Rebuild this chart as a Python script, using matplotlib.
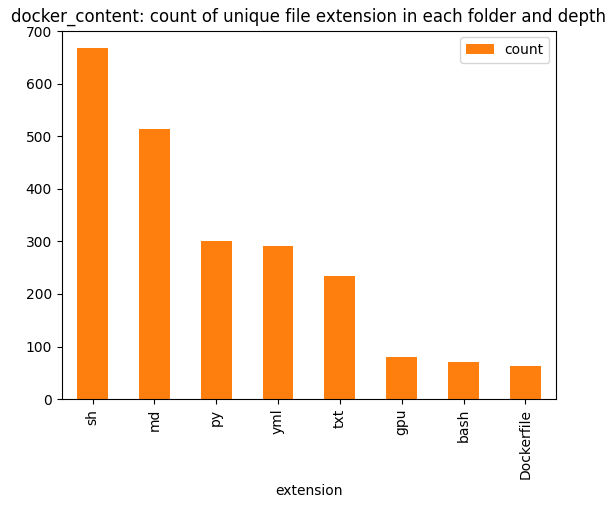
import matplotlib
matplotlib.use("Agg")
import matplotlib.pyplot as plt
import pandas as pd

extensions = ["sh", "md", "py", "yml", "txt", "gpu", "bash", "Dockerfile"]
counts = [668, 514, 301, 292, 235, 80, 71, 62]

df = pd.DataFrame({"extension": extensions, "count": counts}).set_index("extension")

fig, ax = plt.subplots(figsize=(6.16, 5.09), dpi=100)
fig.subplots_adjust(left=0.10, right=0.903, top=0.94, bottom=0.216)
df.plot(kind="bar", ax=ax, color="#ff7f0e")
ax.set_title("docker_content: count of unique file extension in each folder and depth")
fig.savefig("out.png", dpi=100)
